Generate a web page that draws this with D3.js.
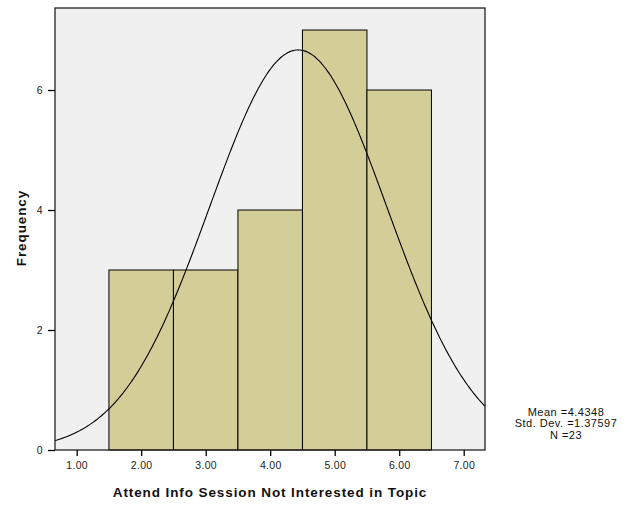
<!DOCTYPE html>
<html>
<head>
<meta charset="utf-8">
<script src="https://cdn.jsdelivr.net/npm/d3@7"></script>
<style>
  html, body { margin: 0; padding: 0; background: #fff; }
  svg { display: block; font-family: "Liberation Sans", Arial, sans-serif; }
</style>
</head>
<body>
<svg id="chart" width="636" height="506"></svg>
<script>
// Histogram bins (lower edge, upper edge) and counts
const binStarts = [1.5, 2.5, 3.5, 4.5, 5.5];
const binEnds = [2.5, 3.5, 4.5, 5.5, 6.5];
const counts = [3, 3, 4, 7, 6];

// Axis ticks
const xTicks = [1, 2, 3, 4, 5, 6, 7];
const yTicks = [0, 2, 4, 6];

// Summary statistics
const statLabels = ["Mean =4.4348", "Std. Dev. =1.37597", "N =23"];
const mean = 4.4348;
const stdDev = 1.37597;
const n = 23;

const svg = d3.select("#chart");
const plot = { left: 55, top: 8, right: 485, bottom: 450 };

const x = d3.scaleLinear().domain([0.664, 7.33]).range([plot.left, plot.right]);
const y = d3.scaleLinear().domain([0, 7.367]).range([plot.bottom, plot.top]);

// Plot background
svg.append("rect")
  .attr("x", plot.left).attr("y", plot.top)
  .attr("width", plot.right - plot.left).attr("height", plot.bottom - plot.top)
  .attr("fill", "#f0f0f0");

// Bars
svg.append("g").selectAll("rect")
  .data(counts)
  .join("rect")
  .attr("x", (d, i) => x(binStarts[i]))
  .attr("y", d => y(d))
  .attr("width", (d, i) => x(binEnds[i]) - x(binStarts[i]))
  .attr("height", d => y(0) - y(d))
  .attr("fill", "#d3ce98")
  .attr("stroke", "#000")
  .attr("stroke-width", 1);

// Normal density curve scaled to counts (bin width 1)
const binWidth = binEnds[0] - binStarts[0];
const density = v => n * binWidth / (stdDev * Math.sqrt(2 * Math.PI)) *
  Math.exp(-0.5 * Math.pow((v - mean) / stdDev, 2));
const xs = d3.range(0, 301).map(i => x.domain()[0] + (x.domain()[1] - x.domain()[0]) * i / 300);
svg.append("path")
  .datum(xs)
  .attr("fill", "none")
  .attr("stroke", "#000")
  .attr("stroke-width", 1.1)
  .attr("d", d3.line().x(v => x(v)).y(v => y(density(v))).curve(d3.curveBasis));

// Frame
svg.append("rect")
  .attr("x", plot.left).attr("y", plot.top)
  .attr("width", plot.right - plot.left).attr("height", plot.bottom - plot.top)
  .attr("fill", "none").attr("stroke", "#222").attr("stroke-width", 1.3);

// Axes
const xAxis = svg.append("g")
  .attr("transform", `translate(0,${plot.bottom})`)
  .call(d3.axisBottom(x).tickValues(xTicks).tickFormat(d3.format(".2f")).tickSize(6).tickPadding(6));
const yAxis = svg.append("g")
  .attr("transform", `translate(${plot.left},0)`)
  .call(d3.axisLeft(y).tickValues(yTicks).tickFormat(d3.format("d")).tickSize(7).tickPadding(5));

[xAxis, yAxis].forEach(g => {
  g.select(".domain").remove();
  g.selectAll(".tick line").attr("stroke", "#000").attr("stroke-width", 1.3);
  g.selectAll(".tick text").attr("fill", "#222").style("font-size", "10.5px")
    .style("letter-spacing", "0.3px");
});

// Axis titles
svg.append("text")
  .attr("x", (plot.left + plot.right) / 2).attr("y", 497)
  .attr("text-anchor", "middle")
  .style("font-size", "13.5px").style("font-weight", "bold")
  .style("letter-spacing", "0.9px").attr("fill", "#111")
  .text("Attend Info Session Not Interested in Topic");

svg.append("text")
  .attr("transform", `translate(26,${(plot.top + plot.bottom) / 2 - 1}) rotate(-90)`)
  .attr("text-anchor", "middle")
  .style("font-size", "13.5px").style("font-weight", "bold")
  .style("letter-spacing", "0.9px").attr("fill", "#111")
  .text("Frequency");

// Summary statistics
svg.append("g").selectAll("text")
  .data(statLabels)
  .join("text")
  .attr("x", 566)
  .attr("y", (d, i) => 415.5 + i * 11.7)
  .attr("text-anchor", "middle")
  .style("font-size", "11px").style("letter-spacing", "0.5px").attr("fill", "#111")
  .text(d => d);
</script>
</body>
</html>
